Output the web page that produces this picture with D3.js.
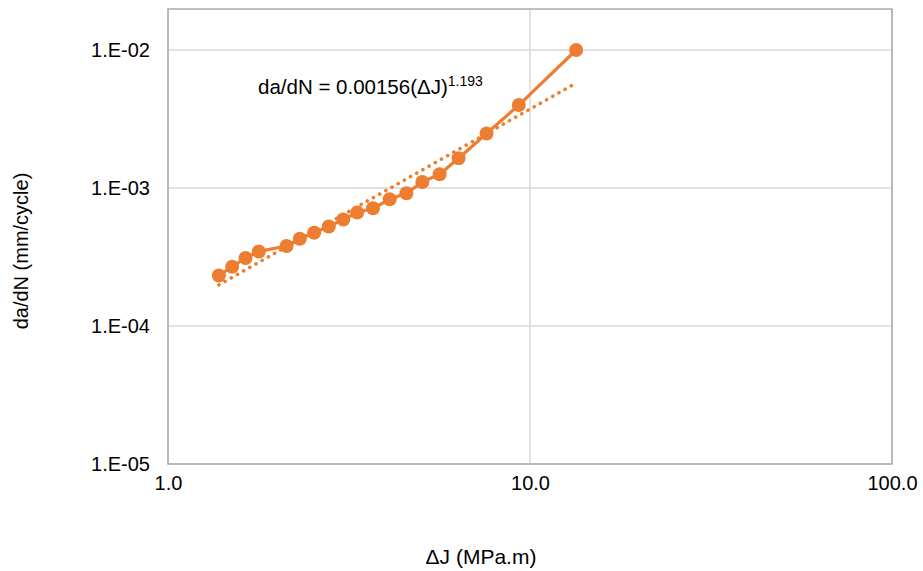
<!DOCTYPE html>
<html>
<head>
<meta charset="utf-8">
<script src="https://cdn.jsdelivr.net/npm/d3@7"></script>
<style>
  html, body { margin: 0; padding: 0; background: #fff; }
  svg { display: block; font-family: "Liberation Sans", Arial, sans-serif; }
</style>
</head>
<body>
<svg id="chart" width="923" height="571"></svg>
<script>
// Crack growth rate vs. ΔJ
const deltaJ = [1.382, 1.504, 1.638, 1.782, 2.126, 2.313, 2.533, 2.781, 3.049, 3.332,
                3.684, 4.097, 4.555, 5.042, 5.628, 6.350, 7.586, 9.314, 13.41];
const dadN = [2.32e-4, 2.69e-4, 3.11e-4, 3.47e-4, 3.80e-4, 4.29e-4, 4.74e-4, 5.26e-4, 5.91e-4, 6.64e-4,
              7.13e-4, 8.28e-4, 9.15e-4, 1.105e-3, 1.257e-3, 1.641e-3, 2.48e-3, 3.99e-3, 1.00e-2];
const xTicks = [1, 10, 100];
const yTicks = [1e-5, 1e-4, 1e-3, 1e-2];
const equationText = "da/dN = 0.00156(ΔJ)";
const equationExp = "1.193";

const color = "#ED7D31";
const svg = d3.select("#chart");
const plotL = 168, plotR = 892, plotT = 9, plotB = 464;

const x = d3.scaleLog().domain([1, 100]).range([plotL, plotR]);
const yMax = Math.pow(10, -5 + (plotB - plotT) / 138);
const y = d3.scaleLog().domain([1e-5, yMax]).range([plotB, plotT]);

// gridlines
svg.append("g").selectAll("line").data(yTicks).join("line")
  .attr("x1", plotL).attr("x2", plotR)
  .attr("y1", d => y(d)).attr("y2", d => y(d))
  .attr("stroke", "#d9d9d9").attr("stroke-width", 1.5);
svg.append("g").selectAll("line").data(xTicks).join("line")
  .attr("y1", plotT).attr("y2", plotB)
  .attr("x1", d => x(d)).attr("x2", d => x(d))
  .attr("stroke", "#d9d9d9").attr("stroke-width", 1.5);

// plot frame
svg.append("rect")
  .attr("x", plotL).attr("y", plotT)
  .attr("width", plotR - plotL).attr("height", plotB - plotT)
  .attr("fill", "none").attr("stroke", "#ababab").attr("stroke-width", 1.5);

// axes (labels only)
const yAxis = d3.axisLeft(y).tickValues(yTicks)
  .tickFormat(d => "1.E" + (Math.log10(d) < 0 ? "-" : "+") + String(Math.abs(Math.round(Math.log10(d)))).padStart(2, "0"))
  .tickSize(0).tickPadding(18);
const gy = svg.append("g").attr("transform", `translate(${plotL},0)`).call(yAxis);
gy.select(".domain").remove();
gy.selectAll("text").attr("font-size", 20).attr("fill", "#000")
  .attr("font-family", "Liberation Sans, Arial, sans-serif");

const xAxis = d3.axisBottom(x).tickValues(xTicks).tickFormat(d3.format(".1f"))
  .tickSize(0).tickPadding(12);
const gx = svg.append("g").attr("transform", `translate(0,${plotB})`).call(xAxis);
gx.select(".domain").remove();
gx.selectAll("text").attr("font-size", 20).attr("fill", "#000")
  .attr("font-family", "Liberation Sans, Arial, sans-serif");

// power-law trendline (least squares in log-log space)
const lx = deltaJ.map(Math.log10), ly = dadN.map(Math.log10);
const mx = d3.mean(lx), my = d3.mean(ly);
const slope = d3.sum(lx, (v, i) => (v - mx) * (ly[i] - my)) / d3.sum(lx, v => (v - mx) * (v - mx));
const icpt = my - slope * mx;
const xMin = d3.min(deltaJ), xMaxData = d3.max(deltaJ);
const trend = d3.range(0, 101).map(i => {
  const xv = Math.pow(10, Math.log10(xMin) + (Math.log10(xMaxData) - Math.log10(xMin)) * i / 100);
  return [xv, Math.pow(10, icpt + slope * Math.log10(xv))];
});
svg.append("path")
  .attr("d", d3.line().x(d => x(d[0])).y(d => y(d[1]))(trend))
  .attr("fill", "none").attr("stroke", color).attr("stroke-width", 3.6)
  .attr("stroke-linecap", "round").attr("stroke-dasharray", "0.1 7");

// data line and markers
const pts = deltaJ.map((v, i) => [v, dadN[i]]);
svg.append("path")
  .attr("d", d3.line().x(d => x(d[0])).y(d => y(d[1]))(pts))
  .attr("fill", "none").attr("stroke", color).attr("stroke-width", 3.2)
  .attr("stroke-linejoin", "round");
svg.append("g").selectAll("circle").data(pts).join("circle")
  .attr("cx", d => x(d[0])).attr("cy", d => y(d[1])).attr("r", 7)
  .attr("fill", color);

// equation label
const eq = svg.append("text").attr("x", 258).attr("y", 94)
  .attr("font-size", 20.5).attr("fill", "#000");
eq.append("tspan").text(equationText);
eq.append("tspan").attr("dy", -8).attr("font-size", 14).text(equationExp);

// axis titles
svg.append("text").attr("x", 481).attr("y", 564).attr("text-anchor", "middle")
  .attr("font-size", 21).attr("fill", "#000").text("ΔJ (MPa.m)");
svg.append("text").attr("transform", "translate(28,251) rotate(-90)")
  .attr("text-anchor", "middle").attr("font-size", 20).attr("fill", "#000")
  .text("da/dN (mm/cycle)");
</script>
</body>
</html>
